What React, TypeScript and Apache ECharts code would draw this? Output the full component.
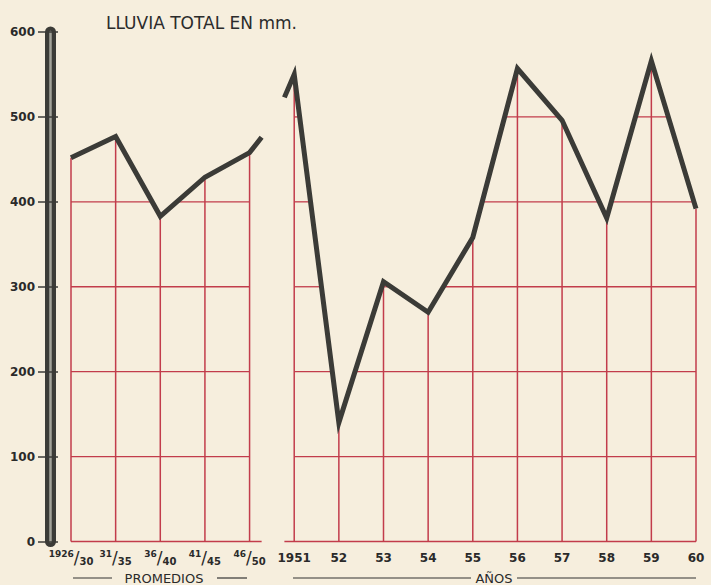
import React, { useEffect, useRef } from 'react';
import * as echarts from 'echarts';

// ---- data ----
const categories = ['1926/30', '31/35', '36/40', '41/45', '46/50', '1951', '52', '53', '54', '55', '56', '57', '58', '59', '60'];
const promedios = [452, 477, 383, 429, 458]; // 1926/30 .. 46/50
const promediosTail: [number, number] = [4.27, 476]; // short continuation stub after 46/50
const anos = [550, 140, 306, 270, 358, 557, 496, 381, 566, 392]; // 1951 .. 1960
const anosLead: [number, number] = [4.78, 523]; // short lead-in stub before 1951
const yMin = 0;
const yMax = 600;
const yStep = 100;

const BG = '#f6eedd';
const RED = '#c23c4b';
const INK = '#3b3b37';
const FONT = "'DejaVu Sans', sans-serif";

function labelFor(v: number): string {
  if (!Number.isInteger(v)) return '';
  const c = categories[v];
  if (c === undefined) return '';
  if (c.includes('/')) {
    const [a, b] = c.split('/');
    return `{n|${a}}{s|/}{d|${b}}`;
  }
  return `{y|${c}}`;
}

const firstAno = promedios.length;
const promPts: number[][] = [...promedios.map((v, i) => [i, v]), promediosTail];
const anosPts: number[][] = [anosLead, ...anos.map((v, i) => [i + firstAno, v])];
const levels: number[] = [];
for (let v = yMin; v < yMax; v += yStep) levels.push(v);

// x-intervals (data units) where the polyline lies at or above level L
function intervalsAbove(pts: number[][], L: number): number[][] {
  const out: number[][] = [];
  let cur: number[] | null = null;
  for (let i = 0; i < pts.length - 1; i++) {
    const [x0, y0] = pts[i];
    const [x1, y1] = pts[i + 1];
    const a0 = y0 >= L;
    const a1 = y1 >= L;
    const xi = x0 + ((L - y0) / (y1 - y0)) * (x1 - x0);
    if (a0 && a1) {
      if (!cur) cur = [x0, x1];
      else cur[1] = x1;
    } else if (a0 && !a1) {
      if (!cur) cur = [x0, xi];
      else cur[1] = xi;
      out.push(cur);
      cur = null;
    } else if (!a0 && a1) {
      cur = [xi, x1];
    }
  }
  if (cur) out.push(cur);
  return out;
}

// red horizontal grid, drawn only underneath each curve
function gridUnder(pts: number[][]) {
  const lo = Math.ceil(pts[0][0]);
  const hi = Math.floor(pts[pts.length - 1][0]);
  return {
    type: 'custom',
    z: 2,
    silent: true,
    encode: { x: 0, y: 1 },
    data: [[pts[0][0], yMin]],
    renderItem: (_params: any, api: any) => {
      const children: any[] = [];
      levels.forEach((L) => {
        intervalsAbove(pts, L).forEach(([a, b]) => {
          const s = L === yMin ? a : Math.max(a, lo);
          const e = L === yMin ? b : Math.min(b, hi);
          if (e <= s) return;
          const p0 = api.coord([s, L]);
          const p1 = api.coord([e, L]);
          children.push({
            type: 'line',
            shape: { x1: p0[0], y1: p0[1], x2: p1[0], y2: p1[1] },
            style: { stroke: RED, lineWidth: L === yMin ? 1.6 : 1.3 },
          });
        });
      });
      return { type: 'group', children };
    },
  };
}

export default function App() {
  const ref = useRef<HTMLDivElement>(null);
  useEffect(() => {
    if (!ref.current) return;
    const chart = echarts.init(ref.current, undefined, { renderer: 'svg' });
    const lineStyle = { color: INK, width: 5, join: 'miter' as const, cap: 'butt' as const, miterLimit: 20 };
    const option: any = {
      animation: false,
      backgroundColor: BG,
      textStyle: { fontFamily: FONT },
      title: {
        text: 'LLUVIA TOTAL EN mm.',
        left: 101,
        top: 9,
        textStyle: { fontSize: 17, fontWeight: 'normal', color: '#2b2b2b', fontFamily: FONT },
      },
      grid: { left: 71, right: 15, top: 32, bottom: 43.5 },
      xAxis: {
        type: 'value',
        min: 0,
        max: categories.length - 1,
        interval: 1,
        axisLine: { show: false },
        axisTick: { show: false },
        splitLine: { show: false },
        axisLabel: {
          margin: 8,
          color: '#2a2a2a',
          formatter: (v: number) => labelFor(v),
          rich: {
            n: { fontSize: 9, fontWeight: 'bold', color: '#2a2a2a', verticalAlign: 'top', fontFamily: FONT },
            s: { fontSize: 17, color: '#2a2a2a', fontFamily: FONT, lineHeight: 17 },
            d: { fontSize: 10, fontWeight: 'bold', color: '#2a2a2a', verticalAlign: 'bottom', fontFamily: FONT },
            y: { fontSize: 12, fontWeight: 'bold', color: '#2a2a2a', fontFamily: FONT, lineHeight: 17 },
          },
        },
      },
      yAxis: [
        {
          type: 'value',
          position: 'left',
          offset: 21,
          min: yMin,
          max: yMax,
          interval: yStep,
          axisLine: { show: true, onZero: false, lineStyle: { color: INK, width: 11 } },
          axisTick: { show: true, inside: false, length: 12, lineStyle: { color: INK, width: 1.5 } },
          axisLabel: { margin: 15, fontSize: 12, fontWeight: 'bold', color: '#2a2a2a', fontFamily: FONT },
          splitLine: { show: false },
        },
        {
          type: 'value',
          position: 'left',
          offset: 21,
          min: yMin,
          max: yMax,
          interval: yStep,
          axisLine: { show: true, onZero: false, lineStyle: { color: '#a3a39a', width: 2.5 } },
          axisTick: { show: true, inside: true, length: 8, lineStyle: { color: INK, width: 1.5 } },
          axisLabel: { show: false },
          splitLine: { show: false },
        },
      ],
      series: [
        gridUnder(promPts),
        gridUnder(anosPts),
        {
          type: 'bar',
          z: 2,
          barWidth: 1.5,
          itemStyle: { color: RED },
          data: [...promedios, ...anos].map((v, i) => [i, v]),
        },
        {
          type: 'line',
          z: 3,
          symbol: 'none',
          data: promPts,
          lineStyle,
        },
        {
          type: 'line',
          z: 3,
          symbol: 'none',
          data: anosPts,
          lineStyle,
        },
      ],
      graphic: [
        { type: 'line', shape: { x1: 73, y1: 578, x2: 112, y2: 578 }, style: { stroke: '#333', lineWidth: 1.2 } },
        {
          type: 'text',
          x: 164,
          y: 578,
          style: { text: 'PROMEDIOS', fontSize: 13, fill: '#2a2a2a', align: 'center', verticalAlign: 'middle', fontFamily: FONT },
        },
        { type: 'line', shape: { x1: 217, y1: 578, x2: 247, y2: 578 }, style: { stroke: '#333', lineWidth: 1.2 } },
        { type: 'line', shape: { x1: 293, y1: 578, x2: 471, y2: 578 }, style: { stroke: '#333', lineWidth: 1.2 } },
        {
          type: 'text',
          x: 494,
          y: 578,
          style: { text: 'AÑOS', fontSize: 13, fill: '#2a2a2a', align: 'center', verticalAlign: 'middle', fontFamily: FONT },
        },
        { type: 'line', shape: { x1: 517, y1: 578, x2: 696, y2: 578 }, style: { stroke: '#333', lineWidth: 1.2 } },
      ],
    };
    chart.setOption(option);
    return () => chart.dispose();
  }, []);
  return (
    <div
      ref={ref}
      style={{ position: 'fixed', left: 0, top: 0, width: 711, height: 585, background: BG }}
    />
  );
}
